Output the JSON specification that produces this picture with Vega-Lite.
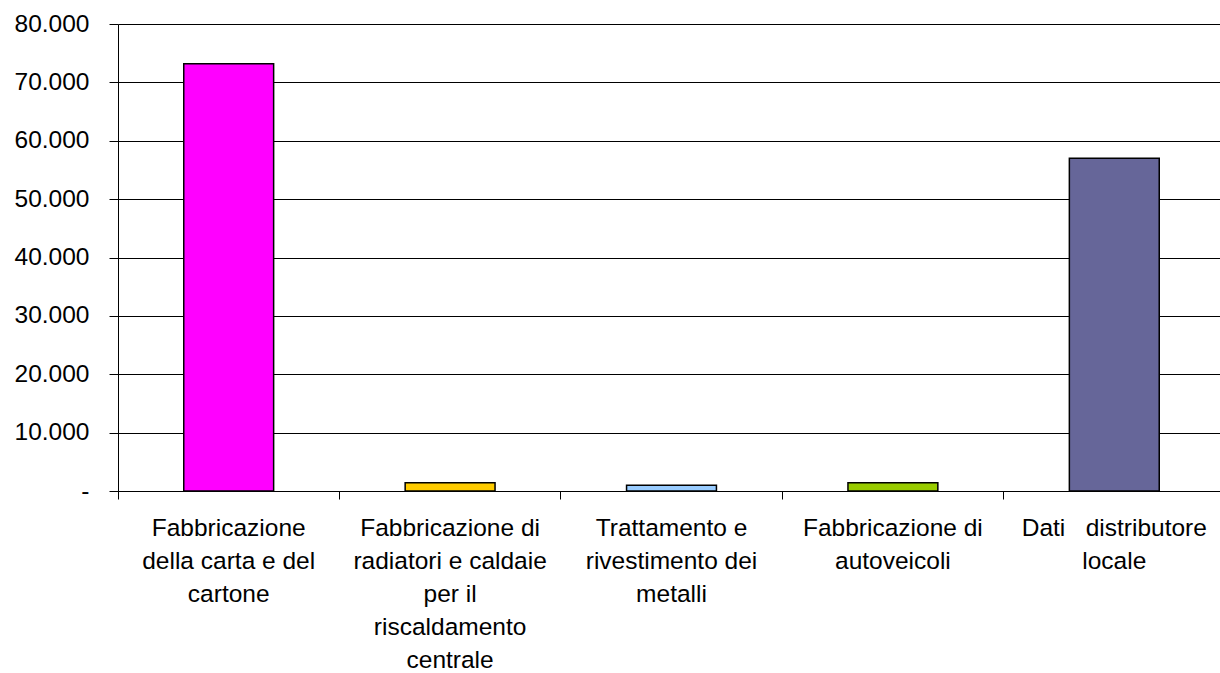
{
  "$schema": "https://vega.github.io/schema/vega-lite/v6.json",
  "autosize": {"type": "none"},
  "padding": {"left": 118, "top": 24, "right": 0, "bottom": 182},
  "width": 1107,
  "height": 467,
  "background": "white",
  "config": {
    "view": {"stroke": null},
    "font": "Liberation Sans",
    "axis": {
      "labelFont": "Liberation Sans",
      "labelFontSize": 24.5,
      "labelColor": "#000000",
      "domainColor": "#000000",
      "tickColor": "#000000",
      "gridColor": "#000000",
      "gridOpacity": 1,
      "domainWidth": 1,
      "tickWidth": 1,
      "gridWidth": 1
    }
  },
  "data": {
    "values": [
      {"categoria": "Fabbricazione|della carta e del|cartone", "valore": 73200, "colore": "#FF00FF"},
      {"categoria": "Fabbricazione di|radiatori e caldaie|per il|riscaldamento|centrale", "valore": 1400, "colore": "#FFCC00"},
      {"categoria": "Trattamento e|rivestimento dei|metalli", "valore": 1000, "colore": "#99CCFF"},
      {"categoria": "Fabbricazione di|autoveicoli", "valore": 1400, "colore": "#99CC00"},
      {"categoria": "Dati\u00a0\u00a0 distributore|locale", "valore": 57000, "colore": "#666699"}
    ]
  },
  "mark": {"type": "bar", "stroke": "#000000", "strokeWidth": 1.5, "width": {"band": 0.406}},
  "encoding": {
    "x": {
      "field": "categoria",
      "type": "nominal",
      "sort": null,
      "scale": {"paddingInner": 0, "paddingOuter": 0},
      "axis": {
        "title": null,
        "labelAngle": 0,
        "labelAlign": "center",
        "labelBaseline": "top",
        "labelExpr": "split(datum.label, '|')",
        "labelLineHeight": 33,
        "labelPadding": 17,
        "labelLimit": 0,
        "tickSize": 8,
        "bandPosition": 0,
        "grid": false
      }
    },
    "y": {
      "field": "valore",
      "type": "quantitative",
      "scale": {"domain": [0, 80000], "nice": false},
      "axis": {
        "title": null,
        "values": [0, 10000, 20000, 30000, 40000, 50000, 60000, 70000, 80000],
        "labelExpr": "datum.value == 0 ? '-' : replace(format(datum.value, ','), ',', '.')",
        "tickSize": 9,
        "labelPadding": 20,
        "grid": true
      }
    },
    "fill": {"field": "colore", "type": "nominal", "scale": null, "legend": null}
  }
}
